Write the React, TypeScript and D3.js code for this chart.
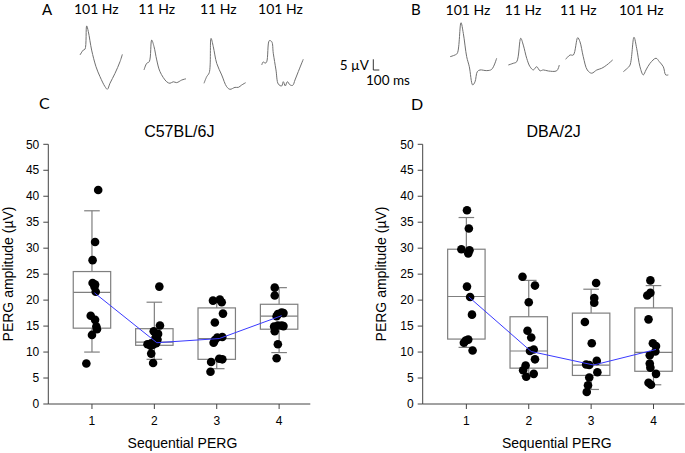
import React from "react";
import * as d3 from "d3";

// ---- data ----
const sessions = [1, 2, 3, 4];
const yTicks = [0, 5, 10, 15, 20, 25, 30, 35, 40, 45, 50];

// C57BL/6J individual eyes
const c57Values = [
  [41.2, 31.2, 27.7, 23.3, 23.0, 22.6, 21.6, 17.0, 16.2, 14.9, 14.4, 13.3, 7.8],
  [22.6, 15.1, 14.0, 13.5, 12.8, 12.4, 11.7, 11.5, 11.7, 11.4, 11.2, 9.7, 7.9],
  [19.9, 20.1, 19.6, 17.4, 15.7, 12.9, 12.8, 12.3, 11.8, 8.7, 8.6, 8.1, 6.2],
  [22.4, 20.9, 17.6, 17.3, 16.9, 17.5, 15.1, 15.1, 15.0, 14.9, 14.0, 11.5, 8.8],
];
const c57Jitter = [
  [0.10, 0.05, 0.01, 0.01, 0.05, 0.04, 0.06, -0.02, 0.05, 0.07, 0.08, 0.0, -0.09],
  [0.08, 0.09, -0.01, 0.06, 0.02, 0.05, -0.05, -0.11, 0.03, -0.02, -0.06, -0.05, -0.02],
  [-0.06, 0.05, 0.08, 0.1, -0.03, 0.09, 0.01, -0.03, -0.05, 0.04, 0.09, -0.09, -0.1],
  [-0.07, -0.07, 0.04, -0.02, -0.04, 0.07, 0.04, -0.02, 0.07, -0.08, -0.07, -0.02, -0.04],
];
const c57Q1 = [14.6, 11.3, 8.6, 14.4];
const c57Median = [21.5, 11.9, 12.6, 16.9];
const c57Q3 = [25.5, 14.5, 18.5, 19.2];
const c57Low = [10.0, 8.6, 6.8, 9.9];
const c57High = [37.2, 19.6, 20.0, 22.4];
const c57Mean = [21.4, 11.8, 12.6, 17.0];

// DBA/2J individual eyes
const dbaValues = [
  [37.3, 33.8, 29.8, 29.6, 29.0, 22.6, 20.6, 17.2, 12.4, 12.2, 11.8, 10.3],
  [24.5, 22.8, 19.6, 14.1, 12.8, 10.5, 10.2, 8.6, 7.4, 6.5, 5.8, 5.25],
  [23.3, 20.4, 19.5, 15.8, 11.7, 8.3, 7.6, 7.5, 6.1, 5.1, 3.6, 2.3],
  [23.8, 21.4, 20.9, 16.3, 11.7, 11.15, 10.1, 9.4, 7.8, 7.0, 5.8, 4.1, 3.7],
];
const dbaJitter = [
  [0.01, 0.04, -0.08, 0.05, 0.03, 0.01, 0.06, 0.09, 0.03, -0.01, -0.04, 0.1],
  [-0.1, 0.1, 0.0, -0.02, 0.04, 0.08, 0.02, 0.1, -0.05, -0.09, 0.08, -0.04],
  [0.08, 0.05, 0.05, -0.1, 0.01, 0.09, -0.08, -0.03, 0.1, -0.03, -0.05, -0.07],
  [-0.05, -0.05, -0.1, -0.08, -0.01, 0.04, 0.03, -0.06, -0.06, -0.05, 0.04, -0.08, -0.04],
];
const dbaQ1 = [12.5, 6.9, 5.5, 6.3];
const dbaMedian = [20.7, 10.2, 7.5, 9.95];
const dbaQ3 = [29.8, 16.8, 17.5, 18.5];
const dbaLow = [10.9, 5.4, 2.8, 3.7];
const dbaHigh = [35.9, 23.8, 22.1, 22.8];
const dbaMean = [20.6, 10.1, 7.5, 10.5];

// example PERG waveforms: [ms, µV]
const freqLabels = ["101 Hz", "11 Hz", "11 Hz", "101 Hz"];
const wavesA = [
  [[0, 0], [55, 2.3], [83, 2.7], [111, 13.6], [139, 10.9], [194, 2.3], [267, -5.5], [333, -10.1], [417, -14.8], [456, -16.0], [500, -13.2], [583, -8.6], [667, -3.1], [706, 0.3]],
  [[0, 0], [45, 3.1], [88, 3.9], [128, 14.0], [167, 10.9], [212, 4.7], [267, -0.8], [378, -5.5], [433, -6.2], [488, -5.5], [545, -5.9], [628, -4.7], [700, -4.1]],
  [[0, 0], [45, 3.1], [88, 5.0], [117, 21.0], [155, 17.1], [212, 9.3], [295, 3.9], [378, -1.6], [433, -2.8], [517, -1.9], [572, -1.9], [628, -0.8], [695, 0.3]],
  [[0, 0], [27, 1.5], [55, 0.8], [83, 1.5], [127, 11.4], [167, 10.9], [193, 5.5], [238, -2.3], [277, -8.9], [333, -9.8], [360, -7.8], [393, -9.8], [427, -7.8], [472, -9.3], [517, -9.5], [555, -7.0], [610, -3.1], [693, 2.7]],
];
const wavesB = [
  [[0, 0], [83, 0.8], [122, 1.6], [183, 15.9], [222, 10.9], [278, 0], [322, -4.7], [378, -13.2], [417, -11.7], [455, -7.0], [500, -6.2], [612, -6.5], [695, -5.9], [778, -0.7]],
  [[0, 0], [83, 0.8], [140, 1.5], [207, 12.5], [250, 9.3], [307, 3.1], [362, -0.8], [417, -2.3], [473, -0.8], [528, -2.7], [583, -2.3], [667, -2.8], [807, -2.7], [850, 0]],
  [[0, 0], [72, 2.0], [127, 2.0], [200, 10.1], [238, 8.2], [293, 1.2], [360, -5.0], [433, -6.5], [517, -5.0], [600, -4.2], [683, -2.7], [783, -0.3]],
  [[0, 0], [67, 1.6], [112, 3.1], [178, 16.1], [223, 10.9], [278, 2.3], [333, -1.5], [378, 0.8], [445, 3.9], [545, 6.3], [600, 4.7], [667, 2.3], [707, -1.5], [750, -1.5]],
];

// ---- layout ----
const W = 685;
const H = 453;
const plotTop = 144.3;
const plotBottom = 404;
const axisLen = 262;
const ARIAL = "'Liberation Sans', Arial, sans-serif";
const CALIBRI = "Lato, 'Open Sans', sans-serif";

// waveform placement (origin of each trace)
const originsA = [[80, 55], [144, 70], [204, 83.3], [261.7, 65]];
const originsB = [[450, 56.7], [508.3, 65], [565.7, 59.3], [623.3, 71.7]];
const freqLabelXA = [96.3, 156.7, 218.3, 280.5];
const freqLabelXB = [468, 523, 578.3, 641.3];
const msPerPx = 100 / 6;
const uvPerPx = 5 / 10.7;

function Waves({ waves, origins }: { waves: number[][][]; origins: number[][] }) {
  const tx = d3.scaleLinear().domain([0, msPerPx]).range([0, 1]);
  const ty = d3.scaleLinear().domain([0, uvPerPx]).range([0, -1]);
  return (
    <g>
      {waves.map((w, i) => {
        const line = d3
          .line<number[]>()
          .x((d) => origins[i][0] + tx(d[0]))
          .y((d) => origins[i][1] + ty(d[1]))
          .curve(d3.curveCatmullRom.alpha(0.5));
        return <path key={i} d={line(w) || ""} fill="none" stroke="#707070" strokeWidth={1} />;
      })}
    </g>
  );
}

interface PanelProps {
  x0: number;
  title: string;
  values: number[][];
  jitter: number[][];
  q1: number[];
  median: number[];
  q3: number[];
  low: number[];
  high: number[];
  mean: number[];
  yTitleX: number;
}

function Panel(p: PanelProps) {
  const x = d3.scaleLinear().domain([0.3, 4.5]).range([p.x0, p.x0 + axisLen]);
  const y = d3.scaleLinear().domain([0, 50]).range([plotBottom, plotTop]);
  const boxW = x(0.6) - x(0);
  const capW = x(0.25) - x(0);
  const boxColor = "#7f7f7f";
  const meanLine = d3
    .line<number>()
    .x((_, i) => x(sessions[i] + 0.04))
    .y((d) => y(d));
  return (
    <g>
      {/* title */}
      <text x={x(2.4)} y={136.5} textAnchor="middle" fontFamily={ARIAL} fontSize={16}>
        {p.title}
      </text>
      {/* y axis */}
      <line x1={p.x0} x2={p.x0} y1={plotTop} y2={plotBottom} stroke="#444" />
      {yTicks.map((t) => (
        <g key={t}>
          <line x1={p.x0 - 5} x2={p.x0} y1={y(t)} y2={y(t)} stroke="#444" />
          <text x={p.x0 - 9} y={y(t) + 4.2} textAnchor="end" fontFamily={ARIAL} fontSize={12}>
            {t}
          </text>
        </g>
      ))}
      {/* x axis */}
      <line x1={p.x0} x2={p.x0 + axisLen} y1={plotBottom} y2={plotBottom} stroke="#444" />
      {sessions.map((s) => (
        <g key={s}>
          <line x1={x(s)} x2={x(s)} y1={plotBottom} y2={plotBottom + 5} stroke="#444" />
          <text x={x(s)} y={425} textAnchor="middle" fontFamily={ARIAL} fontSize={12}>
            {s}
          </text>
        </g>
      ))}
      <text x={x(2.45)} y={448} textAnchor="middle" fontFamily={ARIAL} fontSize={14}>
        Sequential PERG
      </text>
      <text
        transform={`translate(${p.yTitleX},274) rotate(-90)`}
        textAnchor="middle"
        fontFamily={ARIAL}
        fontSize={14}
      >
        PERG amplitude (µV)
      </text>
      {/* boxes */}
      {sessions.map((s, i) => {
        const cx = x(s);
        return (
          <g key={s} stroke={boxColor} fill="none" strokeWidth={1.2}>
            <line x1={cx} x2={cx} y1={y(p.q3[i])} y2={y(p.high[i])} />
            <line x1={cx} x2={cx} y1={y(p.q1[i])} y2={y(p.low[i])} />
            <line x1={cx - capW / 2} x2={cx + capW / 2} y1={y(p.high[i])} y2={y(p.high[i])} />
            <line x1={cx - capW / 2} x2={cx + capW / 2} y1={y(p.low[i])} y2={y(p.low[i])} />
            <rect x={cx - boxW / 2} y={y(p.q3[i])} width={boxW} height={y(p.q1[i]) - y(p.q3[i])} />
            <line x1={cx - boxW / 2} x2={cx + boxW / 2} y1={y(p.median[i])} y2={y(p.median[i])} />
          </g>
        );
      })}
      {/* points */}
      {p.values.map((vals, i) =>
        vals.map((v, j) => (
          <circle key={`${i}-${j}`} cx={x(sessions[i] + p.jitter[i][j])} cy={y(v)} r={4.3} fill="#000" />
        ))
      )}
      {/* mean line */}
      <path d={meanLine(p.mean) || ""} fill="none" stroke="#3a3aff" strokeWidth={1} />
    </g>
  );
}

export default function App() {
  return (
    <svg
      width={W}
      height={H}
      style={{ position: "absolute", left: 0, top: 0, background: "#fff" }}
    >
      <rect width={W} height={H} fill="#fff" />
      {/* panel letters */}
      <text x={42} y={15} fontFamily={CALIBRI} fontSize={15}>A</text>
      <text x={411} y={15} fontFamily={CALIBRI} fontSize={15}>B</text>
      <text x={39} y={109} fontFamily={CALIBRI} fontSize={16}>C</text>
      <text x={411} y={110} fontFamily={CALIBRI} fontSize={16}>D</text>
      {freqLabels.map((f, i) => (
        <text key={"a" + i} x={freqLabelXA[i]} y={14} textAnchor="middle" fontFamily={CALIBRI} fontSize={14}>
          {f}
        </text>
      ))}
      {freqLabels.map((f, i) => (
        <text key={"b" + i} x={freqLabelXB[i]} y={15} textAnchor="middle" fontFamily={CALIBRI} fontSize={14}>
          {f}
        </text>
      ))}
      <Waves waves={wavesA} origins={originsA} />
      <Waves waves={wavesB} origins={originsB} />
      {/* scale bar */}
      <text x={369} y={70} textAnchor="end" fontFamily={CALIBRI} fontSize={13.5}>5 µV</text>
      <path d="M373.3,59.3 V70 H379.3" fill="none" stroke="#333" strokeWidth={1} />
      <text x={366} y={85} fontFamily={CALIBRI} fontSize={13.5}>100 ms</text>
      <Panel
        x0={48.3}
        title="C57BL/6J"
        values={c57Values}
        jitter={c57Jitter}
        q1={c57Q1}
        median={c57Median}
        q3={c57Q3}
        low={c57Low}
        high={c57High}
        mean={c57Mean}
        yTitleX={13}
      />
      <Panel
        x0={422.7}
        title="DBA/2J"
        values={dbaValues}
        jitter={dbaJitter}
        q1={dbaQ1}
        median={dbaMedian}
        q3={dbaQ3}
        low={dbaLow}
        high={dbaHigh}
        mean={dbaMean}
        yTitleX={386}
      />
    </svg>
  );
}
